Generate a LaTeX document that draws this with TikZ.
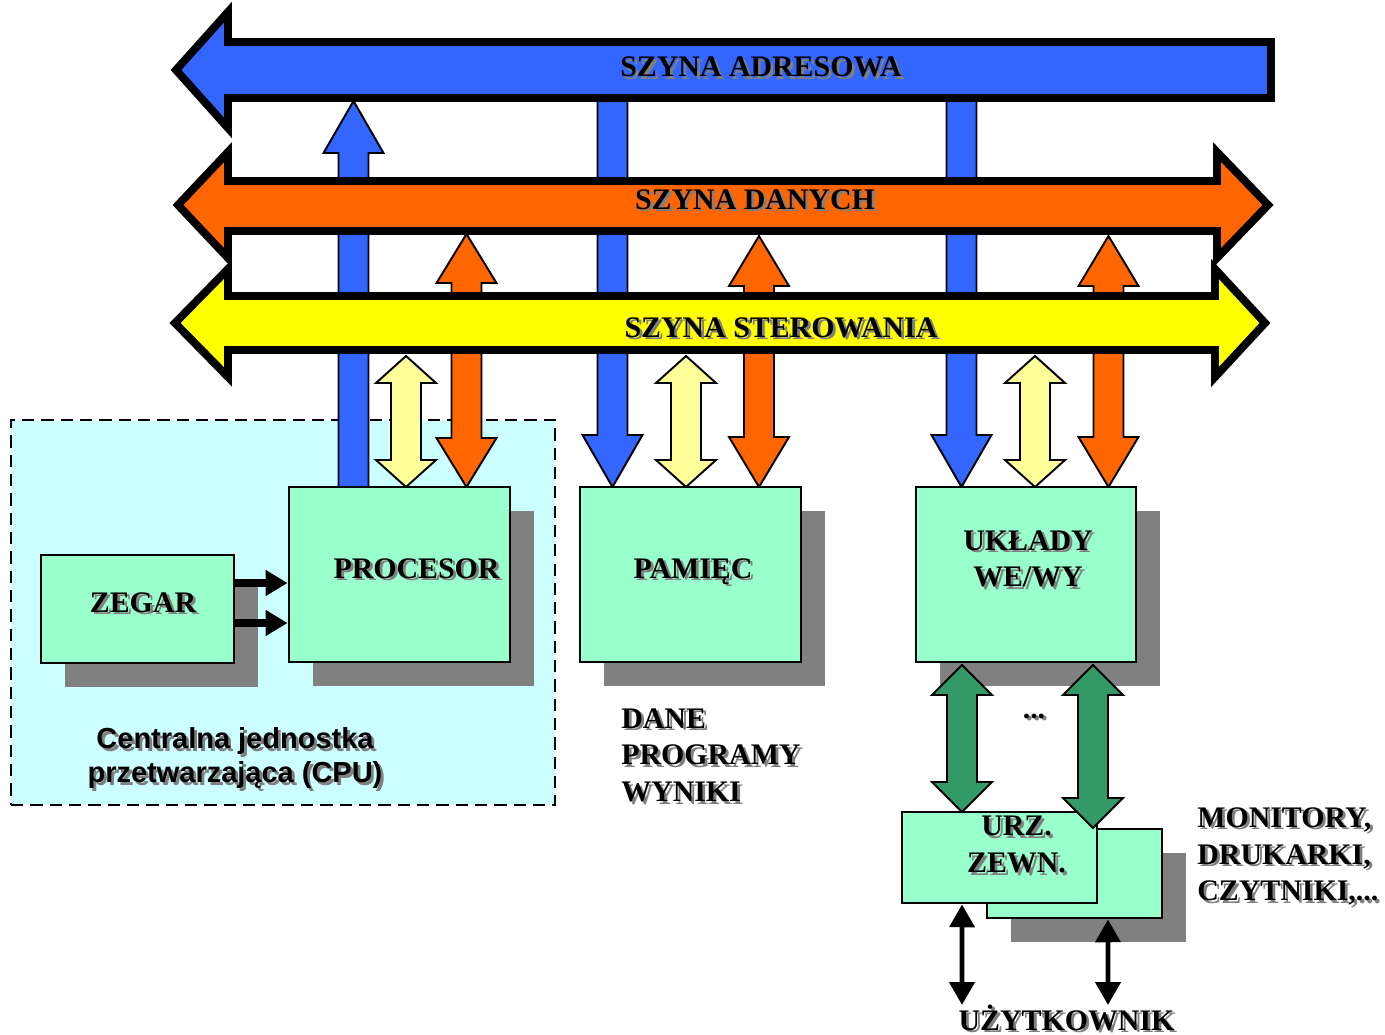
\documentclass[tikz,border=0pt]{standalone}
\usepackage{fontspec}
\setmainfont{Liberation Serif}
\newfontfamily\cpufont{Liberation Sans}
\usepackage{tikz}
\usepackage{xcolor}
\usetikzlibrary{arrows.meta,shadows}

\definecolor{busblue}{HTML}{3366FF}
\definecolor{busorange}{HTML}{FF6600}
\definecolor{busyellow}{HTML}{FFFF00}
\definecolor{paleyellow}{HTML}{FFFF99}
\definecolor{mint}{HTML}{99FFCC}
\definecolor{cpucyan}{HTML}{CCFFFF}
\definecolor{iogreen}{HTML}{339966}
\definecolor{shgray}{HTML}{808080}

% gray shadow under a word
\newcommand{\shd}[1]{\leavevmode\rlap{\kern1.6pt\raisebox{-1.6pt}{\color{shgray}#1}}#1}
% block arrows: style, x, top, bottom, head length
\newcommand{\arrDown}[5]{\filldraw[#1] ({#2-15},#3) -- ({#2-15},{#4-#5}) -- ({#2-30},{#4-#5}) -- (#2,#4)
  -- ({#2+30},{#4-#5}) -- ({#2+15},{#4-#5}) -- ({#2+15},#3) -- cycle;}
\newcommand{\arrUp}[5]{\filldraw[#1] ({#2-15},#4) -- ({#2-15},{#3+#5}) -- ({#2-30},{#3+#5}) -- (#2,#3)
  -- ({#2+30},{#3+#5}) -- ({#2+15},{#3+#5}) -- ({#2+15},#4) -- cycle;}
\newcommand{\arrBoth}[5]{\filldraw[#1] ({#2-15},{#3+#5}) -- ({#2-30},{#3+#5}) -- (#2,#3)
  -- ({#2+30},{#3+#5}) -- ({#2+15},{#3+#5}) -- ({#2+15},{#4-#5}) -- ({#2+30},{#4-#5})
  -- (#2,#4) -- ({#2-30},{#4-#5}) -- ({#2-15},{#4-#5}) -- cycle;}

\begin{document}
\begin{tikzpicture}[x=0.02cm,y=-0.02cm,
  bus/.style={draw=black,line width=4.5pt,line join=miter},
  barr/.style={draw=black,line width=1.1pt,line join=miter},
  box/.style={draw=black,line width=1.6pt,fill=mint,inner sep=0pt,
    drop shadow={shadow xshift=0.48cm,shadow yshift=-0.48cm,fill=shgray,opacity=1}},
  lbl/.style={font=\fontsize{17}{21}\selectfont\bfseries,inner sep=0pt},
  clk/.style={line width=4pt,-{Triangle[length=12.5pt,width=14pt]}},
  usr/.style={line width=2.8pt,{Triangle[length=13pt,width=14pt]}-{Triangle[length=13pt,width=14pt]}}]
\useasboundingbox (0,0) rectangle (1385,1034);

% CPU area
\node[draw=black,fill=cpucyan,line width=1.2pt,dash pattern=on 7pt off 4pt,
  minimum width=10.88cm,minimum height=7.7cm] (cpu) at (283,612.5) {};

% links to the buses
\arrUp{barr,fill=busblue}{353.5}{101}{487}{52}
\arrBoth{barr,fill=paleyellow}{406}{356}{487}{27}
\arrBoth{barr,fill=busorange}{466.5}{234}{487}{49}
\arrDown{barr,fill=busblue}{612.5}{70}{487}{52}
\arrBoth{barr,fill=paleyellow}{686}{356}{487}{27}
\arrBoth{barr,fill=busorange}{759}{236}{487}{50}
\arrDown{barr,fill=busblue}{961.5}{70}{487}{52}
\arrBoth{barr,fill=paleyellow}{1035}{356}{487}{27}
\arrBoth{barr,fill=busorange}{1108.5}{236}{487}{50}

% buses
\filldraw[bus,fill=busblue] (1271,42) -- (228,42) -- (228,12) -- (176,70) -- (228,128)
  -- (228,98) -- (1271,98) -- cycle;
\filldraw[bus,fill=busorange] (228,181) -- (1217,181) -- (1217,152) -- (1268,205) -- (1217,258)
  -- (1217,231) -- (228,231) -- (228,258) -- (178,205) -- (228,152) -- cycle;
\filldraw[bus,fill=busyellow] (228,296) -- (1215,296) -- (1215,269) -- (1265,323) -- (1215,377)
  -- (1215,350) -- (228,350) -- (228,377) -- (175,323) -- (228,269) -- cycle;
\node[lbl,anchor=base] (adr) at (761,77) {\shd{SZYNA ADRESOWA}};
\node[lbl,anchor=base] (dan) at (755,209) {\shd{SZYNA DANYCH}};
\node[lbl,anchor=base] (ster) at (781,337) {\shd{SZYNA STEROWANIA}};

% blocks
\node[box,minimum width=3.86cm,minimum height=2.16cm] (zegar) at (137.5,609) {};
\node[box,minimum width=4.42cm,minimum height=3.5cm] (proc) at (399.5,574.5) {};
\node[box,minimum width=4.42cm,minimum height=3.5cm] (pam) at (690.5,574.5) {};
\node[box,minimum width=4.4cm,minimum height=3.5cm] (io) at (1026,574.5) {};
\node[box,minimum width=3.5cm,minimum height=1.78cm] (urzB) at (1074.5,873.5) {};
\node[draw=black,line width=1.6pt,fill=mint,inner sep=0pt,
  minimum width=3.9cm,minimum height=1.82cm] (urzA) at (999.5,857.5) {};

\node[lbl,anchor=base] (zegartxt) at (143,612) {\shd{ZEGAR}};
\node[lbl,anchor=base] (proctxt) at (416.5,578) {\shd{PROCESOR}};
\node[lbl,anchor=base] (pamtxt) at (693,578) {\shd{PAMIĘC}};
\node[lbl,anchor=north,align=center] (iotxt) at (1028,530) {\shd{UKŁADY}\\\shd{WE/WY}};
\node[lbl,anchor=north,align=center] (urztxt) at (1016.5,816) {\shd{URZ.}\\\shd{ZEWN.}};
\node[lbl,anchor=north west,align=left] (pamlist) at (621,708) {\shd{DANE}\\\shd{PROGRAMY}\\\shd{WYNIKI}};
\node[lbl,anchor=north west,align=left] (devlist) at (1197,807) {\shd{MONITORY,}\\\shd{DRUKARKI,}\\\shd{CZYTNIKI,...}};
\node[lbl,anchor=base] (dots) at (1034,718) {\shd{...}};
\node[lbl,anchor=base] (user) at (1066.5,1030) {\shd{UŻYTKOWNIK}};
\node[font={\cpufont\bfseries\fontsize{16.5}{19.3}\selectfont},inner sep=0pt,
  anchor=north,align=center] (cputxt) at (235,727) {\shd{Centralna jednostka}\\\shd{przetwarzająca (CPU)}};

% clock to processor
\draw[clk] ([yshift=0.52cm]zegar.east) -- ([yshift=0.52cm]zegar.east -| proc.west);
\draw[clk] ([yshift=-0.28cm]zegar.east) -- ([yshift=-0.28cm]zegar.east -| proc.west);

% I/O to devices
\arrBoth{barr,fill=iogreen}{962}{665}{812}{30}
\arrBoth{barr,fill=iogreen}{1093}{665}{828}{30}

% devices to user
\coordinate (usrL) at (962,1005);
\coordinate (usrR) at (1108,1005);
\draw[usr] ([xshift=-0.75cm]urzA.south) -- (usrL);
\draw[usr] ([xshift=0.67cm]urzB.south) -- (usrR);
\end{tikzpicture}
\end{document}
